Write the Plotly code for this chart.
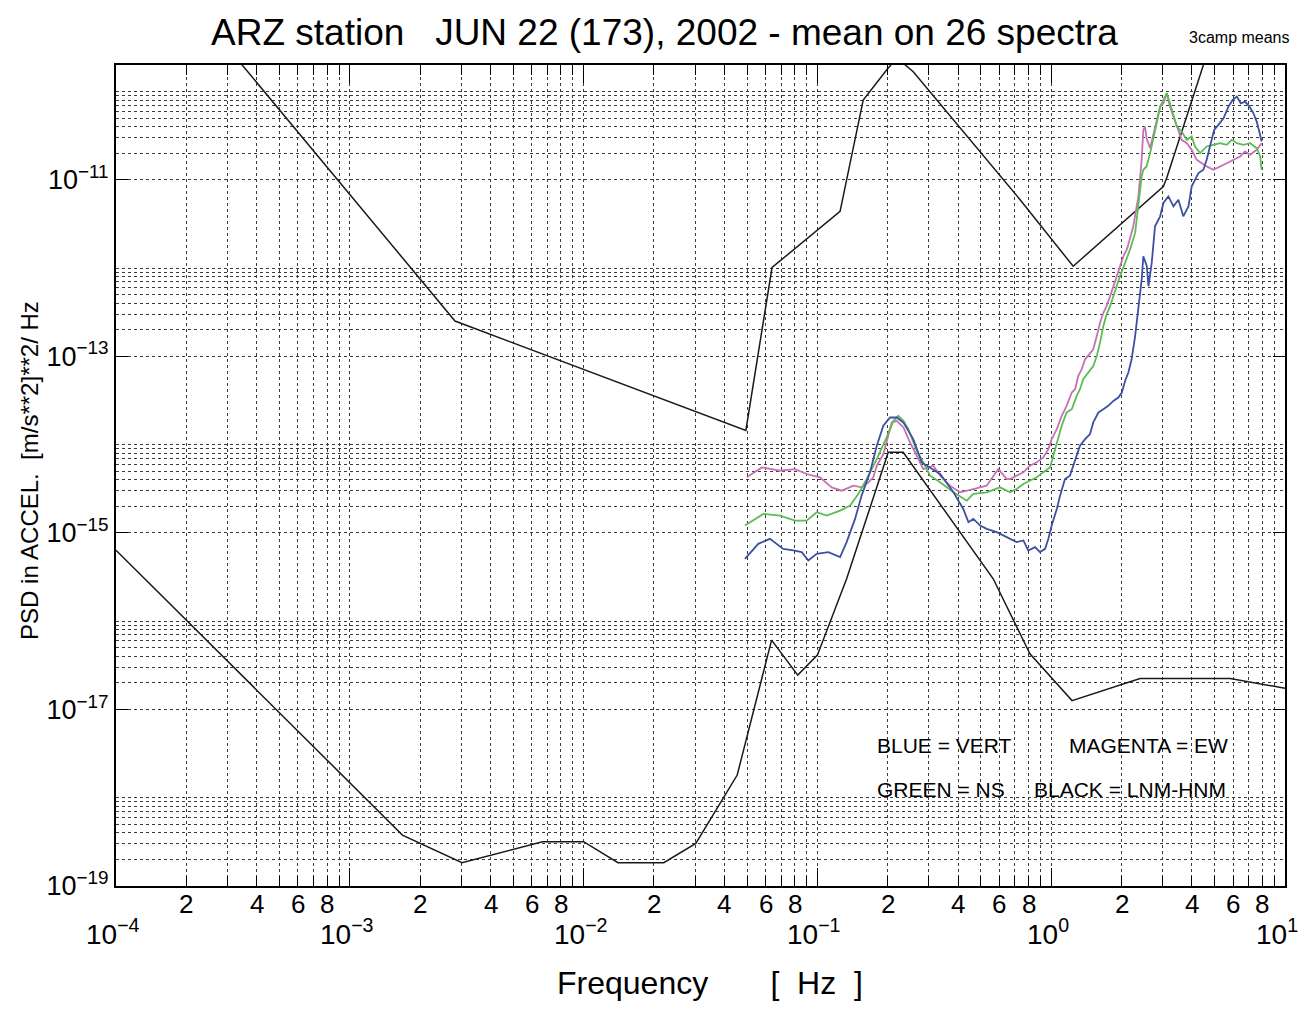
import math
import plotly.graph_objects as go

# ---------------- data (log10 of frequency [Hz] and log10 of PSD) ----------------
vert_logf = [-1.310,-1.253,-1.203,-1.146,-1.103,-1.067,-1.039,-1.003,-0.953,-0.903,-0.875,-0.839,-0.811,-0.775,-0.746,-0.718,-0.689,-0.661,-0.632,-0.590,-0.554,-0.518,-0.475,-0.418,-0.376,-0.354,-0.333,-0.304,-0.276,-0.233,-0.190,
             -0.176,-0.148,-0.119,-0.098,-0.069,-0.048,-0.026,-0.012,0.002,0.024,0.038,0.059,0.080,0.102,0.123,0.145,0.166,0.180,0.202,0.223,0.244,0.266,0.287,0.302,0.316,0.330,0.344,0.359,0.373,0.387,0.394,0.409,0.416,0.430,
             0.444,0.466,0.480,0.501,0.523,0.544,0.565,0.587,0.601,0.615,0.630,0.651,0.665,0.679,0.697,0.715,0.737,0.758,0.776,0.794,0.811,0.829,0.848,0.865,0.879,0.890,0.900]
vert_logp = [-15.294,-15.124,-15.068,-15.181,-15.199,-15.218,-15.312,-15.237,-15.218,-15.275,-15.105,-14.842,-14.578,-14.314,-14.013,-13.787,-13.693,-13.693,-13.750,-13.938,-14.202,-14.258,-14.333,-14.540,-14.729,-14.879,-14.842,-14.917,-14.955,-14.992,-15.049,
             -15.067,-15.105,-15.086,-15.199,-15.162,-15.218,-15.181,-15.067,-14.917,-14.729,-14.578,-14.390,-14.352,-14.164,-14.013,-13.938,-13.881,-13.749,-13.636,-13.599,-13.561,-13.505,-13.467,-13.410,-13.279,-13.184,-13.034,-12.770,-12.469,-12.130,-11.866,-11.979,-12.205,-11.942,
             -11.527,-11.414,-11.263,-11.188,-11.301,-11.226,-11.414,-11.301,-11.075,-11.000,-10.924,-10.887,-10.774,-10.623,-10.435,-10.378,-10.303,-10.171,-10.096,-10.058,-10.134,-10.115,-10.171,-10.247,-10.341,-10.454,-10.567]

ew_logf = [-1.302,-1.238,-1.160,-1.096,-1.046,-0.989,-0.939,-0.896,-0.846,-0.810,-0.782,-0.761,-0.746,-0.718,-0.682,-0.661,-0.632,-0.604,-0.575,-0.547,-0.504,-0.475,-0.433,-0.390,-0.333,-0.276,-0.226,-0.190,
           -0.176,-0.148,-0.119,-0.091,-0.062,-0.034,-0.012,0.002,0.024,0.045,0.066,0.088,0.102,0.116,0.130,0.145,0.166,0.180,0.195,0.209,0.223,0.237,0.252,0.266,0.280,0.294,0.309,0.323,
           0.330,0.351,0.373,0.387,0.394,0.401,0.408,0.423,0.444,0.466,0.480,0.494,0.508,0.523,0.537,0.558,0.580,0.601,0.623,0.644,0.665,0.694,0.722,0.751,0.779,0.808,0.829,0.851,0.879,0.900]
ew_logp = [-14.371,-14.258,-14.296,-14.277,-14.333,-14.371,-14.484,-14.522,-14.465,-14.484,-14.427,-14.371,-14.239,-14.107,-13.750,-13.731,-13.806,-13.976,-14.126,-14.277,-14.239,-14.352,-14.465,-14.540,-14.503,-14.465,-14.277,-14.390,
           -14.390,-14.352,-14.314,-14.239,-14.201,-14.145,-14.051,-13.938,-13.825,-13.674,-13.561,-13.410,-13.373,-13.222,-13.147,-13.034,-12.958,-12.921,-12.770,-12.620,-12.507,-12.431,-12.318,-12.205,-12.092,-11.979,-11.866,-11.791,
           -11.734,-11.527,-11.188,-10.774,-10.435,-10.397,-10.529,-10.642,-10.397,-10.171,-10.134,-10.021,-10.171,-10.284,-10.397,-10.548,-10.586,-10.661,-10.774,-10.812,-10.849,-10.887,-10.849,-10.812,-10.774,-10.736,-10.680,-10.717,-10.661,-10.586]

ns_logf = [-1.310,-1.288,-1.231,-1.160,-1.096,-1.046,-1.003,-0.960,-0.903,-0.860,-0.825,-0.789,-0.746,-0.704,-0.675,-0.654,-0.632,-0.611,-0.575,-0.547,-0.518,-0.475,-0.418,-0.361,-0.333,-0.276,-0.219,
           -0.176,-0.148,-0.119,-0.091,-0.062,-0.034,-0.005,0.009,0.024,0.045,0.066,0.088,0.109,0.123,0.137,0.159,0.180,0.195,0.209,0.223,0.237,0.252,0.266,0.280,0.294,0.316,0.337,
           0.359,0.373,0.387,0.394,0.408,0.423,0.437,0.451,0.466,0.480,0.494,0.508,0.523,0.537,0.558,0.580,0.601,0.615,0.637,0.665,0.694,0.722,0.751,0.772,0.794,0.822,0.851,0.879,0.894,0.900]
ns_logp = [-14.917,-14.879,-14.785,-14.804,-14.861,-14.861,-14.766,-14.804,-14.748,-14.691,-14.559,-14.390,-14.164,-13.919,-13.731,-13.674,-13.731,-13.825,-14.070,-14.202,-14.352,-14.427,-14.540,-14.635,-14.559,-14.540,-14.484,
           -14.540,-14.503,-14.446,-14.408,-14.371,-14.314,-14.258,-14.126,-13.975,-13.787,-13.636,-13.599,-13.448,-13.373,-13.260,-13.184,-13.109,-12.996,-12.845,-12.657,-12.525,-12.431,-12.318,-12.205,-12.092,-11.942,-11.791,
           -11.602,-11.301,-10.962,-10.887,-10.849,-10.698,-10.510,-10.360,-10.171,-10.096,-10.021,-10.134,-10.284,-10.397,-10.454,-10.548,-10.510,-10.623,-10.698,-10.623,-10.604,-10.586,-10.604,-10.548,-10.586,-10.604,-10.586,-10.642,-10.736,-10.887]

hnm_logf = [-3.52, -2.55, -1.306, -1.194, -0.903, -0.804, -0.704, -0.66, -0.59, -0.133, 0.094, 0.4795, 0.494, 0.70]
hnm_logp = [-9.51, -12.60, -13.84, -11.994, -11.358, -10.096, -9.757, -9.62, -9.776, -11.226, -11.98, -11.076, -10.98, -9.30]

lnm_logf = [-4.0, -2.775, -2.52, -2.176, -2.0, -1.853, -1.657, -1.520, -1.343, -1.196, -1.084, -1.0, -0.875, -0.697, -0.633, -0.248, -0.091, 0.089, 0.38, 0.765, 1.0]
lnm_logp = [-15.196, -18.423, -18.736, -18.498, -18.498, -18.736, -18.736, -18.517, -17.743, -16.215, -16.611, -16.385, -15.52, -14.088, -14.088, -15.52, -16.37, -16.90, -16.65, -16.65, -16.76]

x_decades = [-4, -3, -2, -1, 0, 1]
x_minor_labels = [2, 4, 6, 8]
y_label_decades = [-19, -17, -15, -13, -11]
y_plain_decades = [-18, -16, -14, -12, -10]

NB = "\u00a0"
title_text = "ARZ station" + NB * 3 + "JUN 22 (173), 2002 - mean on 26 spectra"
sub_text = "3camp means"
xlabel = "Frequency" + NB * 7 + "[" + NB * 2 + "Hz" + NB * 2 + "]"
ylabel = "PSD in ACCEL." + NB * 2 + "[m/s**2]**2/ Hz"

FONT = "Liberation Sans, Arial, sans-serif"


def tolin(v):
    return [10 ** a for a in v]


fig = go.Figure()
fig.add_trace(go.Scatter(x=tolin(hnm_logf), y=tolin(hnm_logp), mode="lines",
                         line=dict(color="#1a1a1a", width=1.5), name="HNM"))
fig.add_trace(go.Scatter(x=tolin(lnm_logf), y=tolin(lnm_logp), mode="lines",
                         line=dict(color="#1a1a1a", width=1.5), name="LNM"))
fig.add_trace(go.Scatter(x=tolin(ew_logf), y=tolin(ew_logp), mode="lines",
                         line=dict(color="#c772b5", width=1.8), name="EW"))
fig.add_trace(go.Scatter(x=tolin(ns_logf), y=tolin(ns_logp), mode="lines",
                         line=dict(color="#5cbd52", width=1.8), name="NS"))
fig.add_trace(go.Scatter(x=tolin(vert_logf), y=tolin(vert_logp), mode="lines",
                         line=dict(color="#3d50a3", width=1.8), name="VERT"))

grid = dict(gridcolor="#3a3a3a", griddash="3px,3px", gridwidth=1)

x_minor_vals = [k * 10 ** d for d in x_decades[:-1] for k in range(2, 10)]
fig.update_xaxes(type="log", range=[-4, 1],
                 tickmode="array", tickvals=[10 ** d for d in x_decades],
                 showticklabels=False, ticks="inside", ticklen=18, tickwidth=1.2,
                 tickcolor="black", showline=True, linecolor="black", linewidth=2,
                 mirror="ticks", showgrid=True, zeroline=False, **grid,
                 minor=dict(tickmode="array", tickvals=x_minor_vals, ticks="inside",
                            ticklen=10, tickwidth=1.2, tickcolor="black",
                            showgrid=True, **grid))

y_minor_vals = [10 ** d for d in y_plain_decades] + \
    [k * 10 ** d for d in y_label_decades for k in range(2, 10)]
fig.update_yaxes(type="log", range=[-19, -9.7],
                 tickmode="array", tickvals=[10 ** d for d in y_label_decades],
                 ticktext=["10<sup>\u2212%d</sup>" % (-d) for d in y_label_decades],
                 tickfont=dict(family=FONT, size=27, color="black"),
                 ticks="inside", ticklen=12, tickwidth=1.2, tickcolor="black",
                 showline=True, linecolor="black", linewidth=2, mirror="ticks",
                 showgrid=True, zeroline=False, **grid,
                 minor=dict(tickmode="array", tickvals=y_minor_vals, ticks="",
                            showgrid=True, **grid))

ann = []
# x tick labels
for d in x_decades:
    ann.append(dict(x=d, y=-0.056, xref="x", yref="paper", xanchor="center",
                    yanchor="middle", showarrow=False, xshift=(-8 if d == 1 else -3),
                    text="10<sup>\u2212%d</sup>" % (-d) if d < 0 else "10<sup>%d</sup>" % d,
                    font=dict(family=FONT, size=28, color="black")))
for d in x_decades[:-1]:
    for k in x_minor_labels:
        ann.append(dict(x=d + math.log10(k), y=-0.022, xref="x", yref="paper",
                        xanchor="center", yanchor="middle", showarrow=False,
                        text=str(k), font=dict(family=FONT, size=26, color="black")))
# titles
ann.append(dict(x=0.4696, y=1.039, xref="paper", yref="paper", xanchor="center",
                yanchor="middle", showarrow=False, text=title_text,
                font=dict(family=FONT, size=37, color="black")))
ann.append(dict(x=1.006, y=1.033, xref="paper", yref="paper", xanchor="right",
                yanchor="middle", showarrow=False, text=sub_text,
                font=dict(family=FONT, size=16, color="black")))
ann.append(dict(x=0.508, y=-0.118, xref="paper", yref="paper", xanchor="center",
                yanchor="middle", showarrow=False, text=xlabel,
                font=dict(family=FONT, size=32, color="black")))
ann.append(dict(x=-0.0736, y=0.5067, xref="paper", yref="paper", xanchor="center",
                yanchor="middle", showarrow=False, text=ylabel, textangle=-90,
                font=dict(family=FONT, size=24, color="black")))
# colour key
key = [("BLUE = VERT", 0.649, 0.1717), ("MAGENTA = EW", 0.8135, 0.1717),
       ("GREEN = NS", 0.649, 0.1181), ("BLACK = LNM-HNM", 0.7836, 0.1181)]
for t, xx, yy in key:
    ann.append(dict(x=xx, y=yy, xref="paper", yref="paper", xanchor="left",
                    yanchor="middle", showarrow=False, text=t,
                    font=dict(family=FONT, size=21, color="black")))

# page body adds an 8 px margin, so the figure is sized to fit the window
fig.update_layout(width=1291, height=994,
                  margin=dict(l=108, r=14, t=57, b=116),
                  paper_bgcolor="white", plot_bgcolor="white",
                  showlegend=False, annotations=ann,
                  font=dict(family=FONT, color="black"))

fig.write_html("out.html")
